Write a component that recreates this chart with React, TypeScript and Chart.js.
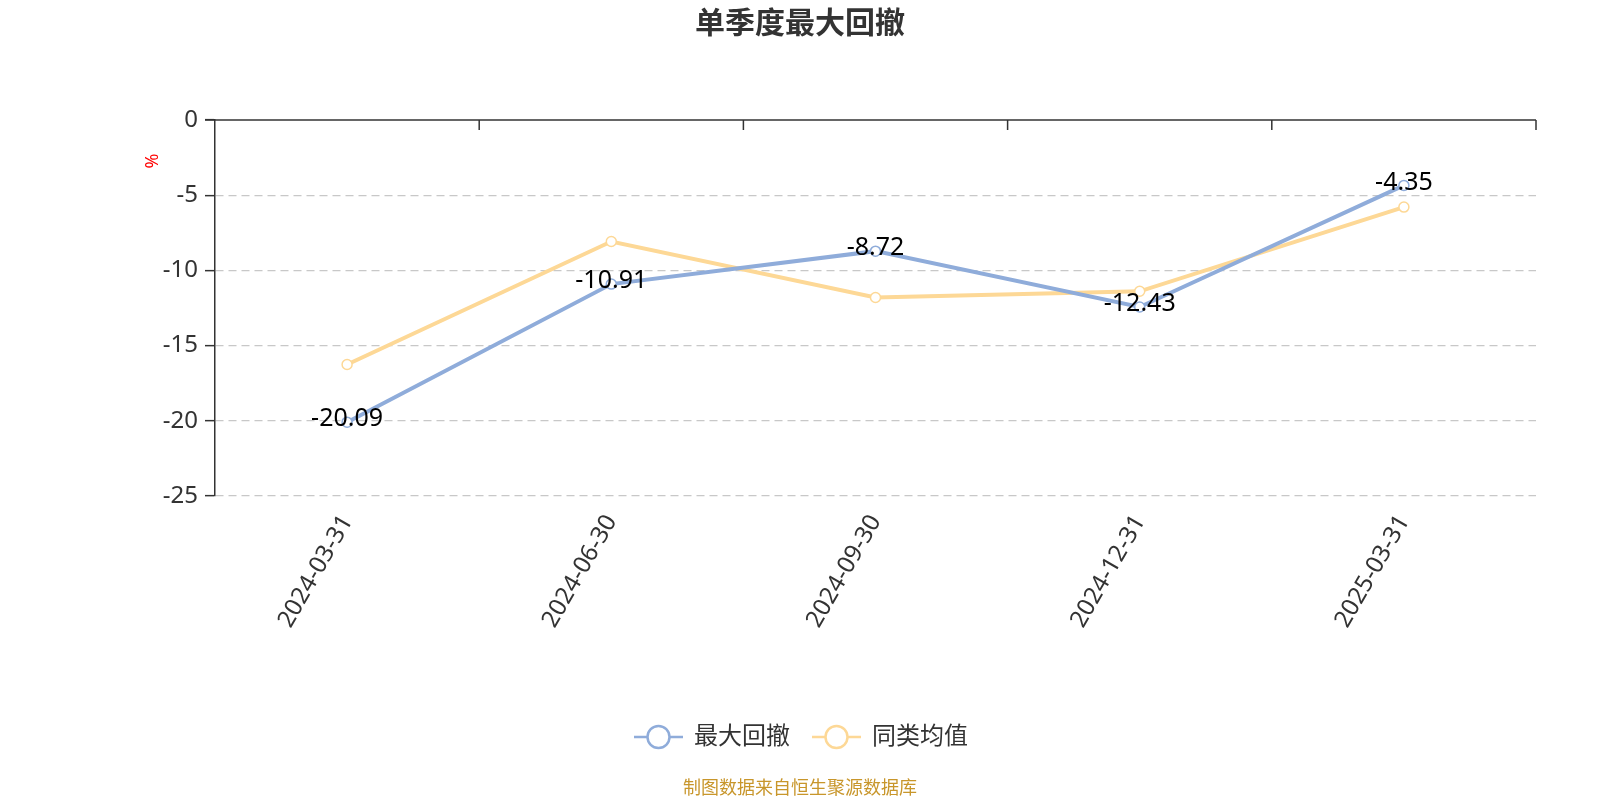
import React, { useEffect, useRef } from "react";
import { Chart, registerables } from "chart.js";

Chart.register(...registerables);

const categories = ["2024-03-31", "2024-06-30", "2024-09-30", "2024-12-31", "2025-03-31"];
const maxDrawdown = [-20.09, -10.91, -8.72, -12.43, -4.35];
const peerAverage = [-16.26, -8.08, -11.8, -11.39, -5.79];
const seriesNames = ["最大回撤", "同类均值"];
const titleText = "单季度最大回撤";
const unitText = "%";
const footerText = "制图数据来自恒生聚源数据库";

const BLUE = "rgb(143,172,218)";
const YELLOW = "rgb(253,216,150)";
const FONT = '"Noto Sans", "Noto Sans CJK SC", sans-serif';

const overlayPlugin = {
  id: "overlay",
  afterDatasetsDraw(chart: any) {
    const { ctx, chartArea, scales } = chart;
    const x = scales.x;
    const y = scales.y;
    const y0 = y.getPixelForValue(0);
    ctx.save();
    ctx.strokeStyle = "#333";
    ctx.lineWidth = 1.5;
    ctx.setLineDash([]);
    ctx.beginPath();
    ctx.moveTo(chartArea.left - 10, y0);
    ctx.lineTo(chartArea.right, y0);
    ctx.stroke();
    const n = categories.length;
    const half = (x.getPixelForValue(1) - x.getPixelForValue(0)) / 2;
    for (let i = 1; i <= n; i++) {
      const px = x.getPixelForValue(i - 1) + half;
      ctx.beginPath();
      ctx.moveTo(px, y0);
      ctx.lineTo(px, y0 + 10);
      ctx.stroke();
    }
    const meta = chart.getDatasetMeta(0);
    ctx.fillStyle = "#000";
    ctx.font = `25px ${FONT}`;
    ctx.textAlign = "center";
    ctx.textBaseline = "middle";
    meta.data.forEach((pt: any, i: number) => {
      ctx.fillText(maxDrawdown[i].toFixed(2), pt.x, pt.y - 3);
    });
    ctx.restore();
  },
  afterDraw(chart: any) {
    const { ctx } = chart;
    ctx.save();
    ctx.fillStyle = "#333";
    ctx.font = `bold 30px ${FONT}`;
    ctx.textAlign = "center";
    ctx.textBaseline = "middle";
    ctx.fillText(titleText, 800, 24);
    ctx.save();
    ctx.translate(153, 161);
    ctx.rotate(-Math.PI / 2);
    ctx.fillStyle = "#ff0000";
    ctx.font = `18px ${FONT}`;
    ctx.fillText(unitText, 0, 0);
    ctx.restore();
    const colors = [BLUE, YELLOW];
    const starts = [634, 812];
    const ly = 737;
    seriesNames.forEach((name, i) => {
      const x0 = starts[i];
      ctx.strokeStyle = colors[i];
      ctx.lineWidth = 2.5;
      ctx.beginPath();
      ctx.moveTo(x0, ly);
      ctx.lineTo(x0 + 49, ly);
      ctx.stroke();
      ctx.beginPath();
      ctx.arc(x0 + 24.5, ly, 11, 0, Math.PI * 2);
      ctx.fillStyle = "#fff";
      ctx.fill();
      ctx.stroke();
      ctx.fillStyle = "#333";
      ctx.font = `24px ${FONT}`;
      ctx.textAlign = "left";
      ctx.textBaseline = "middle";
      ctx.fillText(name, x0 + 60, ly);
    });
    ctx.fillStyle = "#c8962b";
    ctx.font = `18px ${FONT}`;
    ctx.textAlign = "center";
    ctx.textBaseline = "middle";
    ctx.fillText(footerText, 800, 789);
    ctx.restore();
  },
};

export default function App() {
  const ref = useRef<HTMLCanvasElement | null>(null);
  useEffect(() => {
    document.body.style.margin = "0";
    if (!ref.current) return;
    const chart = new Chart(ref.current, {
      type: "line",
      data: {
        labels: categories,
        datasets: [
          {
            label: seriesNames[0],
            data: maxDrawdown,
            borderColor: BLUE,
            backgroundColor: "#fff",
            borderWidth: 4,
            pointRadius: 5,
            pointBorderWidth: 1.5,
            pointBackgroundColor: "#fff",
            pointBorderColor: BLUE,
            tension: 0,
          },
          {
            label: seriesNames[1],
            data: peerAverage,
            borderColor: YELLOW,
            backgroundColor: "#fff",
            borderWidth: 4,
            pointRadius: 5,
            pointBorderWidth: 1.5,
            pointBackgroundColor: "#fff",
            pointBorderColor: YELLOW,
            tension: 0,
          },
        ],
      },
      options: {
        animation: false,
        responsive: false,
        maintainAspectRatio: false,
        layout: { padding: { top: 120, right: 64, left: 0, bottom: 0 } },
        plugins: {
          legend: { display: false },
          title: { display: false },
          tooltip: { enabled: false },
        },
        scales: {
          x: {
            type: "category",
            offset: true,
            grid: { display: false },
            border: { display: false },
            ticks: {
              minRotation: 60,
              maxRotation: 60,
              autoSkip: false,
              color: "#333",
              font: { size: 24, family: FONT },
              padding: 6,
            },
            afterFit: (s: any) => {
              s.height = 304;
            },
          },
          y: {
            min: -25,
            max: 0,
            ticks: {
              stepSize: 5,
              color: "#333",
              font: { size: 24, family: FONT },
              padding: 7,
            },
            grid: {
              color: (c: any) => (c.tick && c.tick.value === 0 ? "rgba(0,0,0,0)" : "#c8c8c8"),
              lineWidth: 1.3,
              tickColor: "#333",
              tickLength: 10,
              tickWidth: 1.5,
              tickBorderDash: [],
            },
            border: { display: true, color: "#333", width: 1.5, dash: [8, 5] },
            afterFit: (s: any) => {
              s.width = 215;
            },
          },
        },
      },
      plugins: [overlayPlugin],
    });
    return () => chart.destroy();
  }, []);
  return (
    <div style={{ width: 1600, height: 800 }}>
      <canvas ref={ref} width={1600} height={800} style={{ width: 1600, height: 800, display: "block" }} />
    </div>
  );
}
